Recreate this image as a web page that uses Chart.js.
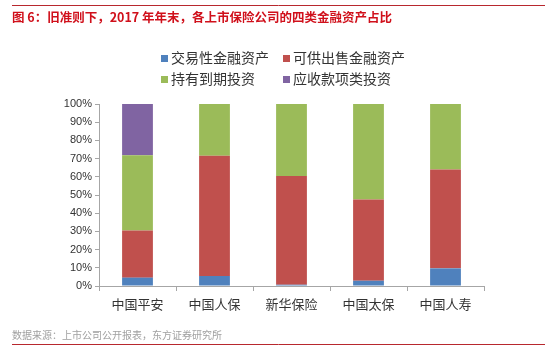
<!DOCTYPE html>
<html>
<head>
<meta charset="utf-8">
<script src="https://cdn.jsdelivr.net/npm/chart.js@4/dist/chart.umd.min.js"></script>
<style>
  html, body { margin: 0; padding: 0; background: #fff; }
  #wrap { width: 553px; height: 353px; }
</style>
</head>
<body>
<div id="wrap"><canvas id="c" width="553" height="353"></canvas></div>
<script>
// 数据（百分比，由图读出）
const companies = ['中国平安', '中国人保', '新华保险', '中国太保', '中国人寿'];
const seriesNames = ['交易性金融资产', '可供出售金融资产', '持有到期投资', '应收款项类投资'];
const tradingAssets = [4.6, 5.5, 0.7, 2.9, 9.7];
const availableForSale = [25.9, 66.1, 59.7, 44.6, 54.3];
const heldToMaturity = [41.4, 28.4, 39.6, 52.5, 36.0];
const receivables = [28.1, 0, 0, 0, 0];
const yTicks = [0, 10, 20, 30, 40, 50, 60, 70, 80, 90, 100];

const colors = ['#4F81BD', '#C0504D', '#9BBB59', '#8064A2'];
const titleText = '图 6：旧准则下，2017 年年末，各上市保险公司的四类金融资产占比';
const sourceText = '数据来源：上市公司公开报表，东方证券研究所';

const cjk = '"Noto Sans CJK SC", "Noto Sans", sans-serif';

// 标题、图例、来源和红线
const decor = {
    id: 'decor',
    afterDraw(chart) {
        const c = chart.ctx;
        c.save();
        c.strokeStyle = '#B8282E';
        c.lineWidth = 1;
        c.beginPath();
        c.moveTo(12, 5.5); c.lineTo(545, 5.5);
        c.moveTo(12, 344.5); c.lineTo(545, 344.5);
        c.stroke();

        c.fillStyle = '#D0101B';
        c.font = 'bold 12.5px ' + cjk;
        c.textBaseline = 'middle';
        c.textAlign = 'left';
        c.fillText(titleText, 12, 17);

        c.fillStyle = '#A0A0A0';
        c.font = '10px ' + cjk;
        c.fillText(sourceText, 12, 335);

        // 图例 2x2
        const pos = [[161, 58], [283, 58], [161, 79], [283, 79]];
        c.font = '14px ' + cjk;
        chart.data.datasets.forEach((ds, i) => {
            const [x, y] = pos[i];
            c.fillStyle = ds.backgroundColor;
            c.fillRect(x, y - 3, 7, 7);
            c.fillStyle = '#333';
            c.fillText(ds.label, x + 10, y);
        });
        c.restore();
    }
};

const datasets = [tradingAssets, availableForSale, heldToMaturity, receivables].map((d, i) => ({
    label: seriesNames[i],
    data: d,
    backgroundColor: colors[i],
    borderWidth: 0,
    barPercentage: 0.4,
    categoryPercentage: 1
}));

new Chart(document.getElementById('c'), {
    type: 'bar',
    data: { labels: companies, datasets: datasets },
    options: {
        responsive: false,
        animation: false,
        layout: { padding: { top: 104, left: 49, right: 69, bottom: 37 } },
        plugins: {
            legend: { display: false },
            title: { display: false },
            tooltip: { enabled: false }
        },
        scales: {
            x: {
                stacked: true,
                afterFit(s) { s.height = 30; },
                grid: {
                    offset: true,
                    drawOnChartArea: false,
                    drawTicks: true,
                    tickLength: 5,
                    color: '#A6A6A6'
                },
                border: { display: true, color: '#A6A6A6' },
                ticks: {
                    color: '#333',
                    padding: 5,
                    font: { family: cjk, size: 13 }
                }
            },
            y: {
                stacked: true,
                min: 0,
                max: 100,
                afterFit(s) { s.width = 50; },
                afterBuildTicks(s) { s.ticks = yTicks.map(v => ({ value: v })); },
                grid: {
                    drawOnChartArea: false,
                    drawTicks: true,
                    tickLength: 4,
                    color: '#A6A6A6'
                },
                border: { display: true, color: '#A6A6A6' },
                ticks: {
                    color: '#333',
                    padding: 3,
                    font: { family: '"Liberation Sans", Arial, sans-serif', size: 11 },
                    callback: v => v + '%'
                }
            }
        }
    },
    plugins: [decor]
});
</script>
</body>
</html>
